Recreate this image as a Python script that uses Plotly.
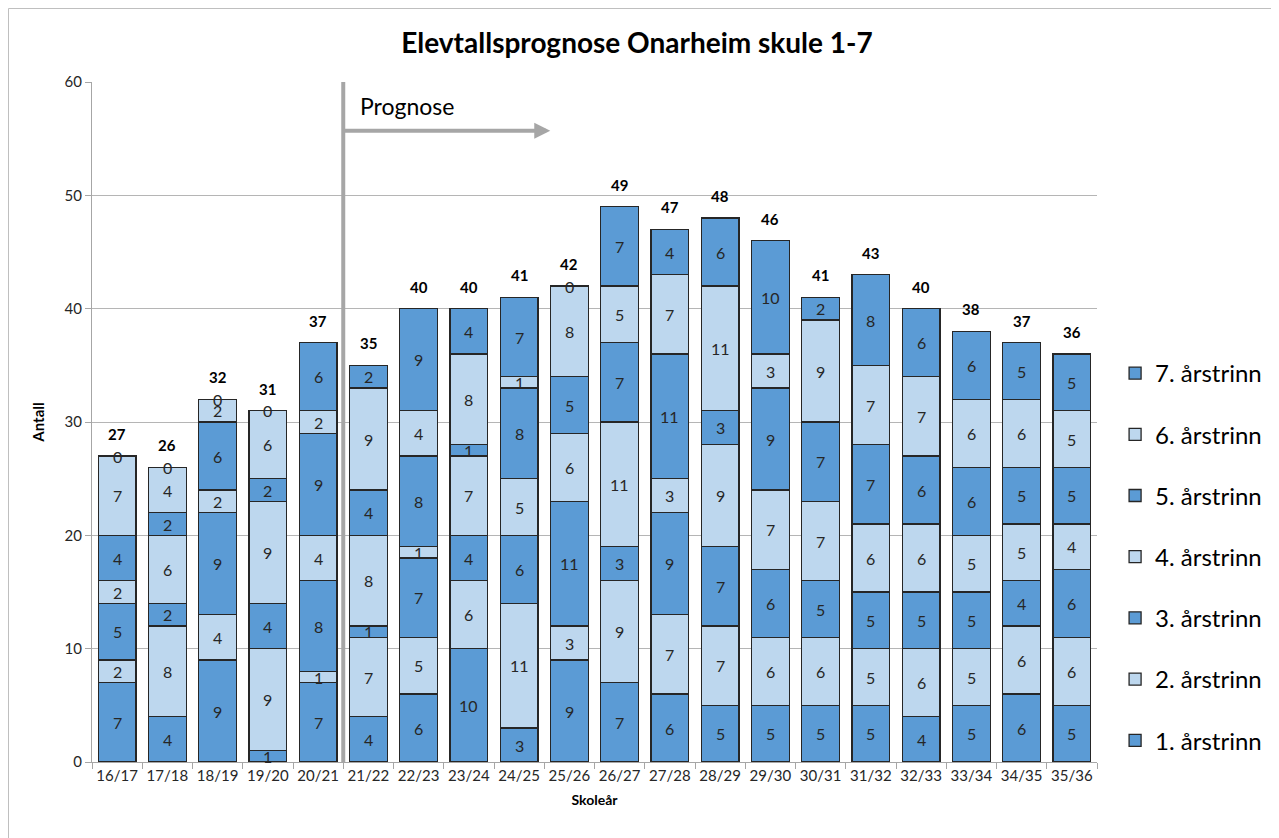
import plotly.graph_objects as go
import numpy as np

categories = ["16/17", "17/18", "18/19", "19/20", "20/21", "21/22", "22/23", "23/24", "24/25", "25/26",
              "26/27", "27/28", "28/29", "29/30", "30/31", "31/32", "32/33", "33/34", "34/35", "35/36"]
series_names = ["1. årstrinn", "2. årstrinn", "3. årstrinn", "4. årstrinn", "5. årstrinn", "6. årstrinn", "7. årstrinn"]
trinn1 = [7, 4, 9, 1, 7, 4, 6, 10, 3, 9, 7, 6, 5, 5, 5, 5, 4, 5, 6, 5]
trinn2 = [2, 8, 4, 9, 1, 7, 5, 6, 11, 3, 9, 7, 7, 6, 6, 5, 6, 5, 6, 6]
trinn3 = [5, 2, 9, 4, 8, 1, 7, 4, 6, 11, 3, 9, 7, 6, 5, 5, 5, 5, 4, 6]
trinn4 = [2, 6, 2, 9, 4, 8, 1, 7, 5, 6, 11, 3, 9, 7, 7, 6, 6, 5, 5, 4]
trinn5 = [4, 2, 6, 2, 9, 4, 8, 1, 8, 5, 7, 11, 3, 9, 7, 7, 6, 6, 5, 5]
trinn6 = [7, 4, 2, 6, 2, 9, 4, 8, 1, 8, 5, 7, 11, 3, 9, 7, 7, 6, 6, 5]
trinn7 = [0, 0, 0, 0, 6, 2, 9, 4, 7, 0, 7, 4, 6, 10, 2, 8, 6, 6, 5, 5]
series_values = [trinn1, trinn2, trinn3, trinn4, trinn5, trinn6, trinn7]

dark = "#5b9bd5"
light = "#bdd7ee"
colors = [dark, light, dark, light, dark, light, dark]
font_family = "Lato, 'Open Sans', sans-serif"

fig = go.Figure()
n = len(series_names)
for i, (name, vals) in enumerate(zip(series_names, series_values)):
    fig.add_trace(go.Bar(
        x=categories, y=vals, name=name, legendgroup=name, legendrank=100 + (n - i),
        marker=dict(color=colors[i], line=dict(color="#262626", width=1.3)),
    ))

annotations = []
cum = np.zeros(len(categories))
for vals in series_values:
    v = np.array(vals, dtype=float)
    mids = cum + v / 2
    for j, cat in enumerate(categories):
        annotations.append(dict(x=j, y=mids[j], text=str(vals[j]), showarrow=False,
                                xref="x", yref="y", font=dict(size=16, color="#262626", family=font_family)))
    cum = cum + v
totals = cum
for j, cat in enumerate(categories):
    annotations.append(dict(x=j, y=totals[j], text="<b>%d</b>" % totals[j], showarrow=False,
                            xref="x", yref="y", yanchor="bottom", yshift=11,
                            font=dict(size=15, color="#000000", family=font_family)))

# Prognose arrow and label
annotations.append(dict(x=8.62, y=55.7, ax=4.5, ay=55.7, axref="x", ayref="y", xref="x", yref="y",
                        showarrow=True, arrowhead=2, arrowsize=0.8, arrowwidth=4, arrowcolor="#a6a6a6",
                        text=""))
annotations.append(dict(x=4.8, y=57.9, text="Prognose", showarrow=False, xref="x", yref="y",
                        xanchor="left", font=dict(size=23, color="#000000", family=font_family)))

L, R, T, B = 84, 182, 74, 76
W, H = 1271, 830
pw, ph = W - L - R, H - T - B
shapes = [
    dict(type="line", xref="x", yref="y", x0=4.5, x1=4.5, y0=0, y1=60,
         line=dict(color="#a6a6a6", width=4)),
    dict(type="rect", xref="paper", yref="paper", x0=-(L - 0.5) / pw, x1=1 + (R + 5) / pw,
         y0=-(B + 5) / ph, y1=1 + (T - 0.5) / ph,
         line=dict(color="#bfbfbf", width=1)),
]

fig.update_layout(
    width=W, height=H,
    margin=dict(l=L, r=R, t=T, b=B),
    paper_bgcolor="white", plot_bgcolor="white",
    barmode="stack", bargap=0.25,
    title=dict(text="<b>Elevtallsprognose Onarheim skule 1-7</b>", x=(637 - 8) / W, xanchor="center",
               y=1 - (43 - 8) / H, yanchor="middle", font=dict(size=28, color="#000000", family=font_family)),
    font=dict(family=font_family, color="#262626"),
    xaxis=dict(title=dict(text="<b>Skoleår</b>", font=dict(size=14, color="#000"), standoff=12),
               tickfont=dict(size=15, color="#262626"), tickangle=0, showline=True, linecolor="#a6a6a6",
               ticks="outside", tickson="boundaries", tickcolor="#a6a6a6", ticklen=6,
               showgrid=False, range=[-0.5, 19.5]),
    yaxis=dict(title=dict(text="<b>Antall</b>", font=dict(size=15, color="#000"), standoff=16),
               range=[0, 60], dtick=10, tickfont=dict(size=15, color="#262626"),
               showgrid=True, gridcolor="#b5b5b5", gridwidth=1, showline=True, linecolor="#a6a6a6",
               ticks="outside", tickcolor="#a6a6a6", ticklen=6, zeroline=False),
    legend=dict(x=1.018, y=1 - (351 - 82) / 680, xanchor="left", yanchor="top", traceorder="grouped",
                tracegroupgap=27, font=dict(size=24, color="#000000", family=font_family),
                itemwidth=30),
    annotations=annotations, shapes=shapes,
)

fig.write_html("out.html")
